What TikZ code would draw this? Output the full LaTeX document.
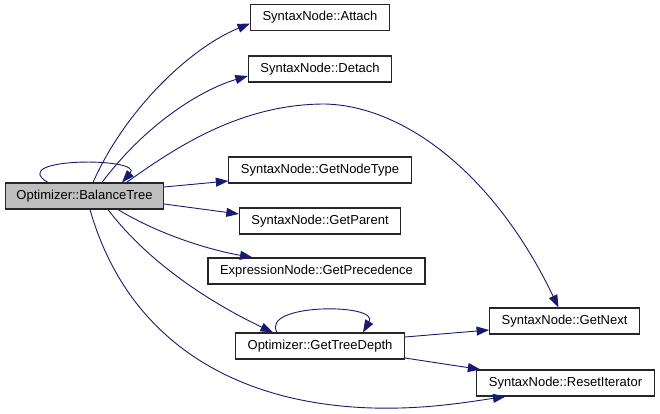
\documentclass[tikz,border=0pt]{standalone}
\usepackage{fontspec}
\setmainfont{Liberation Sans}
\usepackage{xcolor}
\usetikzlibrary{arrows.meta}
\definecolor{callblue}{RGB}{25,25,112}
\definecolor{rootgray}{HTML}{BFBFBF}

\begin{document}
\begin{tikzpicture}[
  x=1pt,y=-1pt,
  font=\fontsize{13}{15}\selectfont,
  funcbox/.style={draw=black!85,line width=1.1pt,fill=white,
    inner xsep=12pt,inner ysep=2pt,minimum height=26pt},
  rootbox/.style={funcbox,fill=rootgray,inner xsep=11pt},
  call/.style={-{Triangle[length=12.5pt,width=9pt]},line width=0.9pt,draw=callblue}
]
  \useasboundingbox (0,0) rectangle (660,414);

  % caller
  \node[rootbox] (balance) at (84.5,196) {Optimizer::BalanceTree};

  % callees
  \node[funcbox] (attach) at (320,17.5) {SyntaxNode::Attach};
  \node[funcbox] (detach) at (320,69) {SyntaxNode::Detach};
  \node[funcbox] (nodetype) at (320,170) {SyntaxNode::GetNodeType};
  \node[funcbox] (parent) at (320,221) {SyntaxNode::GetParent};
  \node[funcbox] (prec) at (316.5,271) {ExpressionNode::GetPrecedence};
  \node[funcbox] (depth) at (320,346) {Optimizer::GetTreeDepth};
  \node[funcbox] (next) at (564.5,321) {SyntaxNode::GetNext};
  \node[funcbox] (reset) at (565.5,383) {SyntaxNode::ResetIterator};

  \draw[call] ([xshift=-36.5pt]balance.north) .. controls (5,157) and (145,157)
    .. ([xshift=37.5pt]balance.north);
  \draw[call] ([xshift=8.5pt]balance.north) .. controls (125,110) and (190,48)
    .. ([yshift=-6pt]attach.west);
  \draw[call] ([xshift=17.5pt]balance.north) .. controls (145,125) and (200,90)
    .. ([yshift=-7pt]detach.west);
  \draw[call] ([xshift=42pt]balance.north) .. controls (175,148) and (240,104)
    .. (325,104) .. controls (405,106) and (495,175) .. ([xshift=-6pt]next.north);
  \draw[call] ([yshift=9pt]balance.east) -- ([yshift=-11pt]nodetype.west);
  \draw[call] ([yshift=-8pt]balance.east) -- ([yshift=7pt]parent.west);
  \draw[call] ([xshift=33.5pt]balance.south) .. controls (160,235) and (210,250)
    .. ([xshift=-64pt]prec.north);
  \draw[call] ([xshift=23.5pt]balance.south) .. controls (150,265) and (215,305)
    .. ([xshift=-47pt]depth.north);
  \draw[call] ([xshift=5.5pt]balance.south) .. controls (130,350) and (250,412)
    .. (400,408) .. controls (440,407) and (475,401) .. ([xshift=-60pt]reset.south);

  \draw[call] ([xshift=-43pt]depth.north) .. controls (260,303) and (380,303)
    .. ([xshift=43pt]depth.north);
  \draw[call] ([yshift=9pt]depth.east) -- ([yshift=-9pt]next.west);
  \draw[call] ([yshift=-12pt]depth.east) -- ([xshift=4pt]reset.north west);
\end{tikzpicture}
\end{document}
